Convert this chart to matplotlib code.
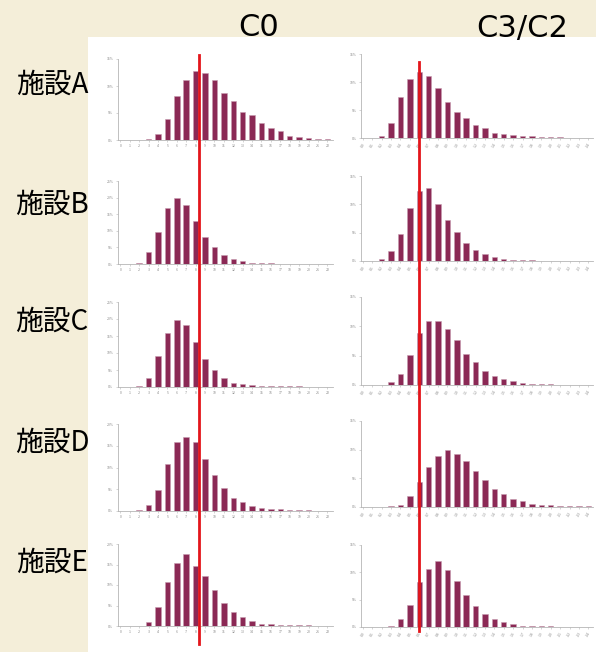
import numpy as np
import matplotlib.pyplot as plt
from matplotlib.patches import Rectangle
from matplotlib.lines import Line2D
from matplotlib.transforms import blended_transform_factory

plt.rcParams['font.family'] = ['Noto Sans CJK JP', 'DejaVu Sans']

facilities = ["施設A", "施設B", "施設C", "施設D", "施設E"]
columns = ["C0", "C3/C2"]

# bin labels (too small to read in the original, kept as tiny text)
c0_bins = ["0", "1", "2", "3", "4", "5", "6", "7", "8", "9", "10", "11",
           "12", "13", "14", "15", "16", "17", "18", "19", "20", "21", "22"]
c3_bins = ["0.0", "0.1", "0.2", "0.3", "0.4", "0.5", "0.6", "0.7", "0.8",
           "0.9", "1.0", "1.1", "1.2", "1.3", "1.4", "1.5", "1.6", "1.7",
           "1.8", "1.9", "2.0", "2.1", "2.2", "2.3", "2.4"]

# share of cases per bin (%)
c0_a = [0.05, 0.05, 0.05, 0.2, 1.1, 3.9, 8.1, 11.1, 12.8, 12.5, 11.1, 8.75,
        7.2, 5.2, 4.6, 3.1, 2.3, 1.75, 0.8, 0.6, 0.4, 0.25, 0.2]
c0_b = [0.02, 0.05, 0.3, 3.5, 9.7, 17.0, 20.0, 17.7, 12.9, 8.0, 5.0, 2.7,
        1.4, 0.9, 0.4, 0.3, 0.2, 0.1, 0.05, 0.05, 0.05, 0.05, 0.05]
c0_c = [0.05, 0.05, 0.3, 2.7, 9.1, 15.9, 19.8, 18.3, 13.2, 8.1, 4.9, 2.6,
        1.3, 0.8, 0.5, 0.4, 0.3, 0.2, 0.2, 0.15, 0.1, 0.1, 0.05]
c0_d = [0.05, 0.05, 0.3, 1.3, 4.9, 10.8, 15.9, 16.9, 15.9, 11.9, 8.2, 5.3,
        3.1, 2.1, 1.2, 0.7, 0.5, 0.35, 0.3, 0.2, 0.15, 0.1, 0.05]
c0_e = [0.05, 0.05, 0.1, 1.0, 4.7, 10.7, 15.3, 17.5, 14.7, 12.2, 8.8, 5.5,
        3.3, 2.1, 1.2, 0.5, 0.4, 0.3, 0.25, 0.25, 0.2, 0.1, 0.1]

c3_a = [0.03, 0.05, 0.3, 2.7, 7.4, 10.5, 11.7, 11.1, 8.9, 6.5, 4.7, 3.5,
        2.4, 1.7, 0.9, 0.7, 0.55, 0.35, 0.3, 0.2, 0.12, 0.1, 0.08, 0.05, 0.03]
c3_b = [0.02, 0.05, 0.3, 1.7, 4.7, 9.4, 12.4, 12.8, 10.0, 7.2, 5.1, 3.2,
        2.0, 1.3, 0.7, 0.4, 0.25, 0.15, 0.1, 0.08, 0.06, 0.05, 0.04, 0.03, 0.03]
c3_c = [0.02, 0.03, 0.05, 0.45, 1.9, 5.1, 8.8, 10.9, 10.9, 9.5, 7.7, 5.3,
        3.9, 2.4, 1.6, 1.0, 0.6, 0.35, 0.2, 0.15, 0.1, 0.05, 0.05, 0.03, 0.03]
c3_d = [0.03, 0.05, 0.05, 0.1, 0.4, 1.9, 4.4, 7.0, 8.9, 9.9, 9.2, 8.0,
        6.3, 4.7, 3.2, 2.3, 1.4, 1.0, 0.6, 0.4, 0.3, 0.2, 0.15, 0.1, 0.1]
c3_e = [0.02, 0.03, 0.05, 0.2, 1.4, 4.0, 8.2, 10.7, 12.1, 10.5, 8.4, 5.8,
        3.8, 2.3, 1.5, 0.9, 0.6, 0.25, 0.2, 0.15, 0.12, 0.05, 0.08, 0.05, 0.03]

c0_ymax = [15, 25, 25, 20, 20]
c3_ymax = [15, 15, 15, 15, 15]

# position of the red reference line (in bin units)
c0_cut = 8.4
c3_cut = 6.0

W, H = 596, 652
fig = plt.figure(figsize=(W / 100, H / 100), dpi=100)
fig.patch.set_facecolor('#f4eed9')
fig.add_artist(Rectangle((88 / W, 0), 1, 1 - 37 / H, transform=fig.transFigure,
                         facecolor='white', edgecolor='none', zorder=0))

# (baseline px, top px) for each row
c0_rows = [(140, 59), (264, 181), (387, 302), (511, 424), (626, 544)]
c3_rows = [(138, 54), (261, 176), (385, 297), (507, 421), (627, 545)]

bar_color = '#8b2955'
edge_color = '#c79bb0'
axis_gray = '#b5b5b5'


def draw_hist(ax, values, labels, ymax, rot):
    x = np.arange(len(values))
    ax.bar(x, values, width=0.58, color=bar_color, edgecolor=edge_color,
           linewidth=0.4, zorder=2)
    ax.set_ylim(0, ymax)
    ax.set_yticks(np.arange(0, ymax + 1, 5))
    ax.set_yticklabels([f"{v}%" for v in np.arange(0, ymax + 1, 5)])
    ax.set_xticks(x)
    ax.set_xticklabels(labels, rotation=rot)
    ax.set_facecolor('none')
    for s in ['top', 'right']:
        ax.spines[s].set_visible(False)
    for s in ['left', 'bottom']:
        ax.spines[s].set_color(axis_gray)
        ax.spines[s].set_linewidth(0.6)
    ax.tick_params(length=1.5, width=0.4, color=axis_gray, labelsize=2.5,
                   labelcolor='#888888', pad=1.5)


c0_data = [c0_a, c0_b, c0_c, c0_d, c0_e]
c3_data = [c3_a, c3_b, c3_c, c3_d, c3_e]
c0_axes, c3_axes = [], []
for i in range(5):
    b, t = c0_rows[i]
    ax = fig.add_axes([117.5 / W, 1 - b / H, 215.5 / W, (b - t) / H])
    ax.set_xlim(-0.3, 22.6)
    draw_hist(ax, c0_data[i], c0_bins, c0_ymax[i], 0)
    c0_axes.append(ax)

    b, t = c3_rows[i]
    ax = fig.add_axes([361 / W, 1 - b / H, 232 / W, (b - t) / H])
    ax.set_xlim(-0.2, 24.5)
    draw_hist(ax, c3_data[i], c3_bins, c3_ymax[i], 60)
    c3_axes.append(ax)

# red reference lines crossing all facilities
tr0 = blended_transform_factory(c0_axes[0].transData, fig.transFigure)
fig.add_artist(Line2D([c0_cut, c0_cut], [1 - 55 / H, 1 - 644 / H], transform=tr0,
                      color='#e3151b', linewidth=2.0, zorder=5))
tr3 = blended_transform_factory(c3_axes[0].transData, fig.transFigure)
fig.add_artist(Line2D([c3_cut, c3_cut], [1 - 62 / H, 1 - 631 / H], transform=tr3,
                      color='#e3151b', linewidth=2.0, zorder=5))

# column titles
fig.text(259 / W, 1 - 28 / H, columns[0], fontsize=22, ha='center', va='center',
         family='DejaVu Sans')
fig.text(522 / W, 1 - 28 / H, columns[1], fontsize=22, ha='center', va='center',
         family='DejaVu Sans')

# row labels
label_y = [85, 205, 322, 443, 563]
for name, y in zip(facilities, label_y):
    fig.text(52 / W, 1 - y / H, name, fontsize=20, ha='center', va='center')

fig.savefig('out.png', dpi=100, facecolor=fig.get_facecolor())
